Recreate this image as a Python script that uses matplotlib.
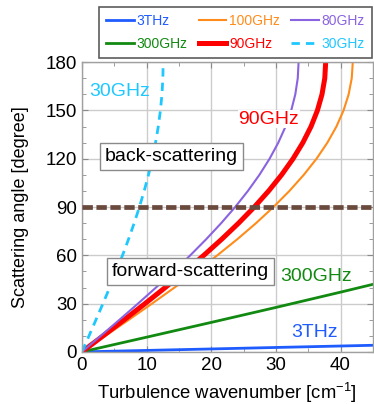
import matplotlib
matplotlib.use("Agg")
import matplotlib.pyplot as plt
from matplotlib.ticker import MultipleLocator

plt.rcParams['font.family'] = ['Liberation Sans', 'DejaVu Sans']
plt.rcParams['mathtext.fontset'] = 'custom'
plt.rcParams['mathtext.rm'] = 'Liberation Sans'
plt.rcParams['mathtext.default'] = 'regular'

# angles (degree) at which wavenumbers were read for the curved series
angles = [0, 10, 20, 30, 40, 50, 60, 70, 80, 90, 100, 110, 120, 130, 140, 150, 160, 170, 180]
k_80 = [0, 2.92, 5.82, 8.67, 11.46, 14.16, 16.76, 19.22, 21.54, 23.70, 25.67, 27.45, 29.02, 30.37, 31.49, 32.37, 33.00, 33.38, 33.51]
k_90 = [0, 3.29, 6.55, 9.76, 12.89, 15.93, 18.85, 21.62, 24.23, 26.66, 28.88, 30.88, 32.65, 34.17, 35.43, 36.42, 37.13, 37.56, 37.70]
k_100 = [0, 3.65, 7.27, 10.84, 14.33, 17.70, 20.94, 24.03, 26.93, 29.62, 32.09, 34.31, 36.28, 37.96, 39.36, 40.46, 41.25, 41.73, 41.89]
k_30 = [0, 1.10, 2.18, 3.25, 4.30, 5.31, 6.28, 7.21, 8.08, 8.89, 9.63, 10.30, 10.88, 11.39, 11.81, 12.14, 12.38, 12.52, 12.57]

# wavenumbers at which angles were read for the nearly straight series
k_lin = [0, 10, 20, 30, 40, 45]
a_300 = [0, 9.13, 18.32, 27.62, 37.12, 41.97]
a_3t = [0, 0.91, 1.82, 2.74, 3.65, 4.10]

boundary_angle = 90

c_3t = '#1f5cff'
c_100 = '#ff8c1a'
c_80 = '#8a63e0'
c_300 = '#128a12'
c_90 = '#ff0000'
c_30 = '#1ec8ff'

fig = plt.figure(figsize=(3.74, 4.04), dpi=100)
ax = fig.add_axes([0.219, 0.129, 0.778, 0.717])

h3t, = ax.plot(k_lin, a_3t, color=c_3t, lw=2.0, label='3THz')
h300, = ax.plot(k_lin, a_300, color=c_300, lw=2.0, label='300GHz')
h100, = ax.plot(k_100, angles, color=c_100, lw=1.5, label='100GHz')
h90, = ax.plot(k_90, angles, color=c_90, lw=3.6, label='90GHz')
h80, = ax.plot(k_80, angles, color=c_80, lw=1.5, label='80GHz')
h30, = ax.plot(k_30, angles, color=c_30, lw=2.0, ls=(0, (3.0, 2.2)), label='30GHz')

ax.axhline(boundary_angle, color='#6b4a3e', lw=3.4, ls=(0, (2.2, 0.75)), zorder=3)

ax.set_xlim(0, 45)
ax.set_ylim(0, 180)
ax.xaxis.set_major_locator(MultipleLocator(10))
ax.xaxis.set_minor_locator(MultipleLocator(5))
ax.yaxis.set_major_locator(MultipleLocator(30))
ax.yaxis.set_minor_locator(MultipleLocator(10))
ax.grid(True, which='major', color='#cccccc', lw=1.0)
ax.set_axisbelow(True)
ax.tick_params(which='both', direction='in', top=True, right=True, colors='#8a8a8a',
               labelcolor='black', labelsize=13.5)
ax.tick_params(which='major', length=4)
ax.tick_params(which='minor', length=3)
for s in ax.spines.values():
    s.set_color('#a0a0a0')
    s.set_linewidth(1.0)

ax.set_xlabel('Turbulence wavenumber [cm$^{-1}$]', fontsize=13.3, labelpad=5)
ax.set_ylabel('Scattering angle [degree]', fontsize=13, labelpad=12)

ax.text(1.1, 162, '30GHz', color=c_30, fontsize=14, va='center', ha='left')
ax.text(24.2, 144.6, '90GHz', color=c_90, fontsize=14, va='center', ha='left',
        bbox=dict(facecolor='white', edgecolor='none', pad=0.5))
ax.text(30.6, 47, '300GHz', color=c_300, fontsize=14, va='center', ha='left')
ax.text(32.3, 11.8, '3THz', color=c_3t, fontsize=14, va='center', ha='left')
bb = dict(facecolor='white', edgecolor='#8a8a8a', boxstyle='square,pad=0.25', lw=1.0)
ax.text(3.6, 121.6, 'back-scattering', fontsize=14, va='center', ha='left', bbox=bb, zorder=5)
ax.text(16.8, 50, 'forward-scattering', fontsize=14, va='center', ha='center', bbox=bb, zorder=5)

handles = [h3t, h300, h100, h90, h80, h30]
leg = fig.legend(handles=handles, ncol=3, loc='upper left',
                 bbox_to_anchor=(99 / 374, 1 - 7 / 404), fontsize=10,
                 labelcolor='linecolor', frameon=True, fancybox=False,
                 handlelength=2.0, handletextpad=0.2, columnspacing=0.8,
                 borderpad=0.5, labelspacing=0.65, borderaxespad=0)
leg.get_frame().set_edgecolor('#333333')
leg.get_frame().set_linewidth(1.2)

fig.savefig('out.png', dpi=100)
